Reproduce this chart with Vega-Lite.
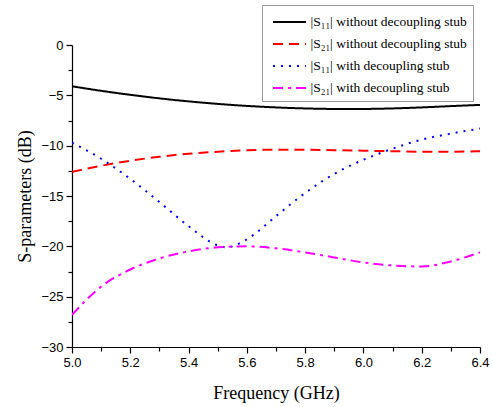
{
  "$schema": "https://vega.github.io/schema/vega-lite/v6.json",
  "width": 408,
  "height": 302,
  "autosize": {"type": "none"},
  "padding": {"left": 72, "top": 45, "right": 13, "bottom": 60},
  "background": "white",
  "config": {"view": {"stroke": null}},
  "data": {"values": [
    {"f": 5.0, "s": "|S₁₁| without decoupling stub", "v": -4.1},
    {"f": 5.1, "s": "|S₁₁| without decoupling stub", "v": -4.55},
    {"f": 5.2, "s": "|S₁₁| without decoupling stub", "v": -4.95},
    {"f": 5.3, "s": "|S₁₁| without decoupling stub", "v": -5.3},
    {"f": 5.4, "s": "|S₁₁| without decoupling stub", "v": -5.6},
    {"f": 5.5, "s": "|S₁₁| without decoupling stub", "v": -5.85},
    {"f": 5.6, "s": "|S₁₁| without decoupling stub", "v": -6.05},
    {"f": 5.7, "s": "|S₁₁| without decoupling stub", "v": -6.2},
    {"f": 5.8, "s": "|S₁₁| without decoupling stub", "v": -6.3},
    {"f": 5.9, "s": "|S₁₁| without decoupling stub", "v": -6.35},
    {"f": 6.0, "s": "|S₁₁| without decoupling stub", "v": -6.35},
    {"f": 6.1, "s": "|S₁₁| without decoupling stub", "v": -6.3},
    {"f": 6.2, "s": "|S₁₁| without decoupling stub", "v": -6.2},
    {"f": 6.3, "s": "|S₁₁| without decoupling stub", "v": -6.07},
    {"f": 6.4, "s": "|S₁₁| without decoupling stub", "v": -5.95},
    {"f": 5.0, "s": "|S₂₁| without decoupling stub", "v": -12.6},
    {"f": 5.1, "s": "|S₂₁| without decoupling stub", "v": -12.0},
    {"f": 5.2, "s": "|S₂₁| without decoupling stub", "v": -11.5},
    {"f": 5.3, "s": "|S₂₁| without decoupling stub", "v": -11.1},
    {"f": 5.4, "s": "|S₂₁| without decoupling stub", "v": -10.8},
    {"f": 5.5, "s": "|S₂₁| without decoupling stub", "v": -10.6},
    {"f": 5.6, "s": "|S₂₁| without decoupling stub", "v": -10.45},
    {"f": 5.7, "s": "|S₂₁| without decoupling stub", "v": -10.4},
    {"f": 5.8, "s": "|S₂₁| without decoupling stub", "v": -10.4},
    {"f": 5.9, "s": "|S₂₁| without decoupling stub", "v": -10.45},
    {"f": 6.0, "s": "|S₂₁| without decoupling stub", "v": -10.5},
    {"f": 6.1, "s": "|S₂₁| without decoupling stub", "v": -10.55},
    {"f": 6.2, "s": "|S₂₁| without decoupling stub", "v": -10.6},
    {"f": 6.3, "s": "|S₂₁| without decoupling stub", "v": -10.6},
    {"f": 6.4, "s": "|S₂₁| without decoupling stub", "v": -10.55},
    {"f": 5.0, "s": "|S₁₁| with decoupling stub", "v": -9.7},
    {"f": 5.1, "s": "|S₁₁| with decoupling stub", "v": -11.3},
    {"f": 5.2, "s": "|S₁₁| with decoupling stub", "v": -13.3},
    {"f": 5.3, "s": "|S₁₁| with decoupling stub", "v": -15.6},
    {"f": 5.4, "s": "|S₁₁| with decoupling stub", "v": -18.0},
    {"f": 5.5, "s": "|S₁₁| with decoupling stub", "v": -19.9},
    {"f": 5.53, "s": "|S₁₁| with decoupling stub", "v": -20.1},
    {"f": 5.6, "s": "|S₁₁| with decoupling stub", "v": -19.3},
    {"f": 5.7, "s": "|S₁₁| with decoupling stub", "v": -17.0},
    {"f": 5.8, "s": "|S₁₁| with decoupling stub", "v": -14.7},
    {"f": 5.9, "s": "|S₁₁| with decoupling stub", "v": -12.8},
    {"f": 6.0, "s": "|S₁₁| with decoupling stub", "v": -11.4},
    {"f": 6.1, "s": "|S₁₁| with decoupling stub", "v": -10.3},
    {"f": 6.2, "s": "|S₁₁| with decoupling stub", "v": -9.4},
    {"f": 6.3, "s": "|S₁₁| with decoupling stub", "v": -8.8},
    {"f": 6.4, "s": "|S₁₁| with decoupling stub", "v": -8.3},
    {"f": 5.0, "s": "|S₂₁| with decoupling stub", "v": -26.8},
    {"f": 5.1, "s": "|S₂₁| with decoupling stub", "v": -24.0},
    {"f": 5.2, "s": "|S₂₁| with decoupling stub", "v": -22.3},
    {"f": 5.3, "s": "|S₂₁| with decoupling stub", "v": -21.2},
    {"f": 5.4, "s": "|S₂₁| with decoupling stub", "v": -20.5},
    {"f": 5.5, "s": "|S₂₁| with decoupling stub", "v": -20.1},
    {"f": 5.6, "s": "|S₂₁| with decoupling stub", "v": -20.0},
    {"f": 5.7, "s": "|S₂₁| with decoupling stub", "v": -20.2},
    {"f": 5.8, "s": "|S₂₁| with decoupling stub", "v": -20.6},
    {"f": 5.9, "s": "|S₂₁| with decoupling stub", "v": -21.1},
    {"f": 6.0, "s": "|S₂₁| with decoupling stub", "v": -21.6},
    {"f": 6.1, "s": "|S₂₁| with decoupling stub", "v": -21.9},
    {"f": 6.2, "s": "|S₂₁| with decoupling stub", "v": -22.0},
    {"f": 6.3, "s": "|S₂₁| with decoupling stub", "v": -21.5},
    {"f": 6.4, "s": "|S₂₁| with decoupling stub", "v": -20.6}
  ]},
  "mark": {"type": "line", "strokeWidth": 2, "interpolate": "monotone", "clip": true},
  "encoding": {
    "x": {
      "field": "f", "type": "quantitative",
      "scale": {"domain": [5.0, 6.4], "nice": false, "zero": false},
      "axis": {
        "title": "Frequency (GHz)",
        "values": [5.0, 5.1, 5.2, 5.3, 5.4, 5.5, 5.6, 5.7, 5.8, 5.9, 6.0, 6.1, 6.2, 6.3, 6.4],
        "labelExpr": "round(datum.value*10) % 2 == 0 ? format(datum.value, '.1f') : ''",
        "tickSize": {"condition": {"test": "round(datum.value*10) % 2 == 0", "value": 6}, "value": 4},
        "grid": false, "domainColor": "black", "tickColor": "black", "domainWidth": 1.2, "tickWidth": 1.2,
        "labelFlush": false, "labelOverlap": false,
        "labelFont": "Liberation Sans", "labelFontSize": 13, "labelColor": "black", "labelPadding": 3,
        "titleFont": "Liberation Serif", "titleFontSize": 18, "titleFontWeight": "normal", "titleColor": "black", "titlePadding": 15
      }
    },
    "y": {
      "field": "v", "type": "quantitative",
      "scale": {"domain": [-30, 0], "nice": false},
      "axis": {
        "title": "S-parameters (dB)",
        "values": [0, -2.5, -5, -7.5, -10, -12.5, -15, -17.5, -20, -22.5, -25, -27.5, -30],
        "labelExpr": "datum.value % 5 == 0 ? format(datum.value, 'd') : ''",
        "tickSize": {"condition": {"test": "datum.value % 5 == 0", "value": 6}, "value": 4},
        "grid": false, "domainColor": "black", "tickColor": "black", "domainWidth": 1.2, "tickWidth": 1.2,
        "labelFlush": false, "labelOverlap": false,
        "labelFont": "Liberation Sans", "labelFontSize": 13, "labelColor": "black", "labelPadding": 3,
        "titleFont": "Liberation Serif", "titleFontSize": 18, "titleFontWeight": "normal", "titleColor": "black", "titlePadding": 6
      }
    },
    "color": {
      "field": "s", "type": "nominal",
      "scale": {
        "domain": ["|S₁₁| without decoupling stub", "|S₂₁| without decoupling stub", "|S₁₁| with decoupling stub", "|S₂₁| with decoupling stub"],
        "range": ["black", "#ff0000", "#0000ff", "#ff00ff"]
      },
      "legend": {
        "title": null, "orient": "none", "legendX": 190, "legendY": -40,
        "strokeColor": "#999", "fillColor": "white", "padding": 6,
        "symbolType": "M-1.65,0H1.65", "symbolSize": 400, "symbolStrokeWidth": 2, "symbolOffset": 10.5,
        "labelFont": "Liberation Serif", "labelFontSize": 13.5, "labelColor": "black", "labelLimit": 400,
        "rowPadding": 4, "labelOffset": 10
      }
    },
    "strokeDash": {
      "field": "s", "type": "nominal",
      "scale": {
        "domain": ["|S₁₁| without decoupling stub", "|S₂₁| without decoupling stub", "|S₁₁| with decoupling stub", "|S₂₁| with decoupling stub"],
        "range": [[1, 0], [10, 6], [2, 6], [10, 5, 3, 5]]
      },
      "legend": {
        "title": null, "orient": "none", "legendX": 190, "legendY": -40,
        "strokeColor": "#999", "fillColor": "white", "padding": 6,
        "symbolType": "M-1.65,0H1.65", "symbolSize": 400, "symbolStrokeWidth": 2, "symbolOffset": 10.5,
        "labelFont": "Liberation Serif", "labelFontSize": 13.5, "labelColor": "black", "labelLimit": 400,
        "rowPadding": 4, "labelOffset": 10
      }
    }
  }
}
